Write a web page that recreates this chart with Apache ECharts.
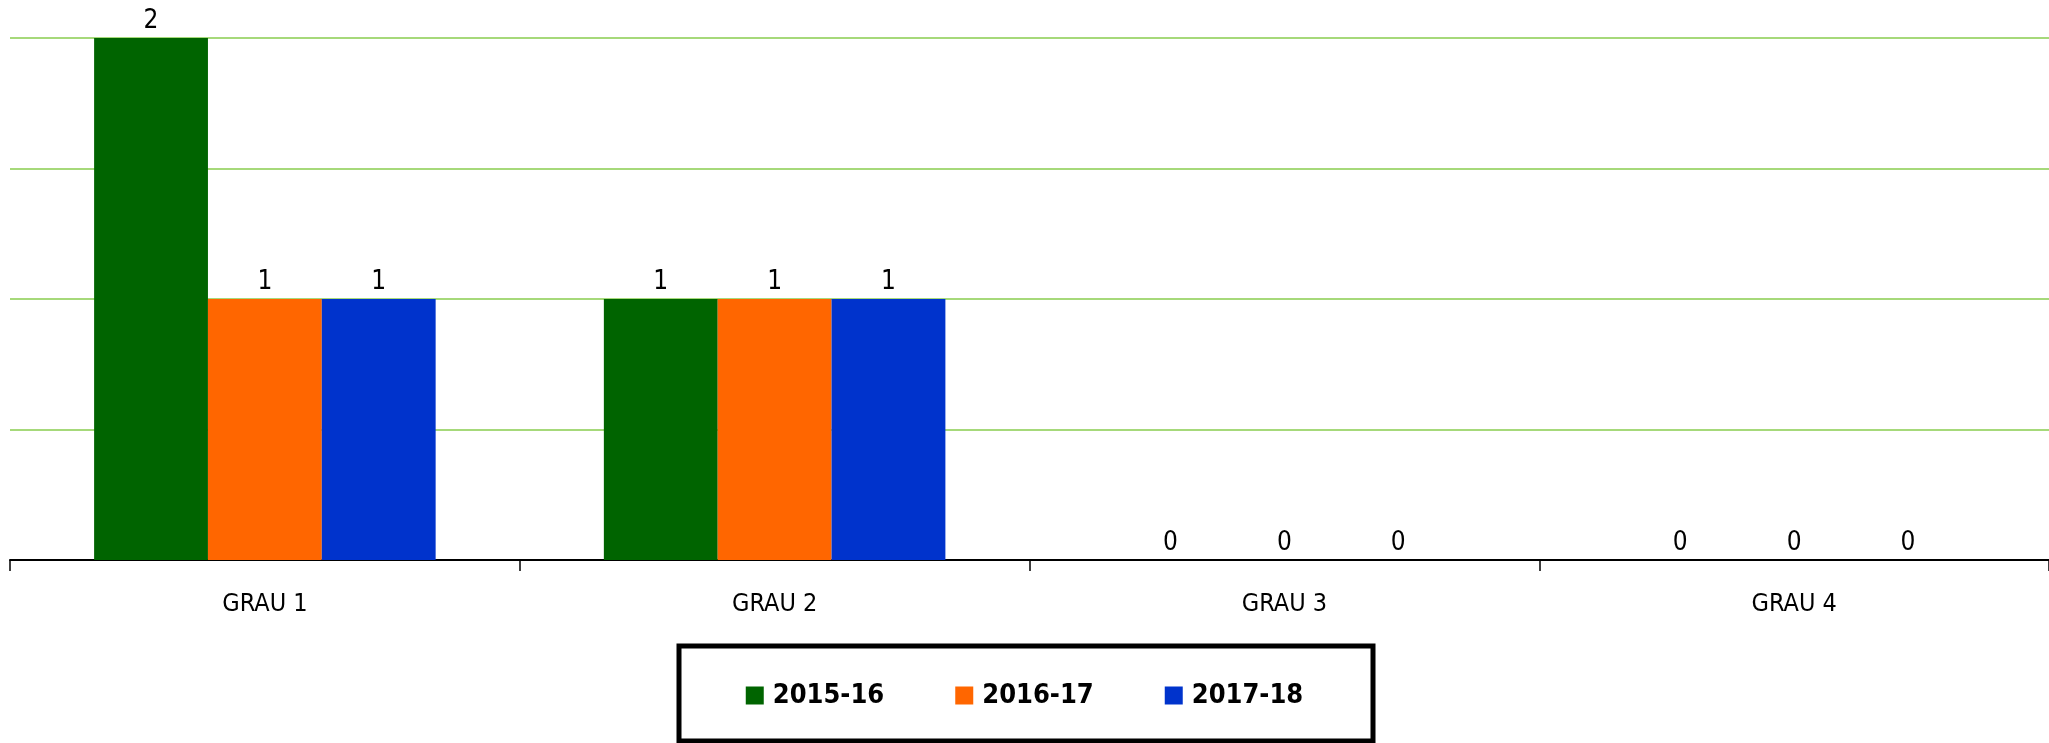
<!DOCTYPE html>
<html>
<head>
<meta charset="utf-8">
<script src="https://cdn.jsdelivr.net/npm/echarts@6/dist/echarts.min.js"></script>
<style>
  html, body { margin: 0; padding: 0; background: #fff; }
  #chart { width: 2049px; height: 743px; }
</style>
</head>
<body>
<div id="chart"></div>
<script>
const categories = ['GRAU 1', 'GRAU 2', 'GRAU 3', 'GRAU 4']
const seriesNames = ['2015-16', '2016-17', '2017-18']
const values1516 = [2, 1, 0, 0]
const values1617 = [1, 1, 0, 0]
const values1718 = [1, 1, 0, 0]
const colors = ['#006400', '#FF6600', '#0033CC']

const FONT = '"DejaVu Sans Condensed", "Liberation Sans Narrow", sans-serif'

const makeSeries = (name, data, color) => ({
  name,
  type: 'bar',
  data,
  barGap: '0%',
  barCategoryGap: '33%',
  itemStyle: { color },
  label: {
    show: true,
    position: 'top',
    distance: 4,
    color: '#000',
    fontFamily: FONT,
    fontSize: 26,
  },
})

const chart = echarts.init(document.getElementById('chart'))
chart.setOption({
  animation: false,
  color: colors,
  grid: { left: 10, right: 0, top: 38, bottom: 183, containLabel: false },
  legend: {
    left: 'center',
    top: 677,
    itemWidth: 18,
    itemHeight: 18,
    itemGap: 71,
    icon: 'rect',
    textStyle: { fontFamily: FONT, fontSize: 27, fontWeight: 'bold', color: '#000', padding: [0, 0, 0, 4] },
    data: seriesNames,
  },
  graphic: [{
    type: 'rect',
    shape: { x: 679, y: 646, width: 694, height: 95 },
    style: { fill: 'none', stroke: '#000', lineWidth: 5 },
    silent: true,
  }],
  xAxis: {
    type: 'category',
    data: categories,
    axisLine: { lineStyle: { color: '#000', width: 2 } },
    axisTick: { show: true, length: 11, lineStyle: { color: '#000', width: 1.5 } },
    axisLabel: { margin: 32, color: '#000', fontFamily: FONT, fontSize: 25 },
  },
  yAxis: {
    type: 'value',
    min: 0,
    max: 2,
    interval: 0.5,
    axisLabel: { show: false },
    axisLine: { show: false },
    axisTick: { show: false },
    splitLine: { lineStyle: { color: '#a6d97a', width: 2 } },
  },
  series: [
    makeSeries(seriesNames[0], values1516, colors[0]),
    makeSeries(seriesNames[1], values1617, colors[1]),
    makeSeries(seriesNames[2], values1718, colors[2]),
  ],
})
</script>
</body>
</html>
